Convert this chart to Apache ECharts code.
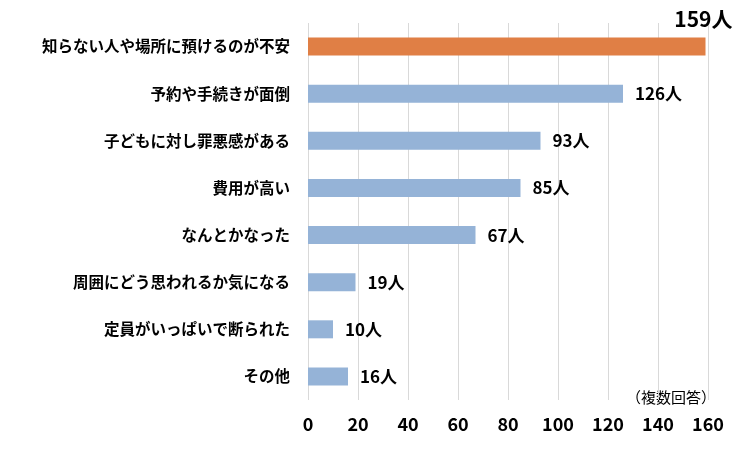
<!DOCTYPE html>
<html><head><meta charset="utf-8">
<script src="https://cdn.jsdelivr.net/npm/echarts@6/dist/echarts.min.js"></script>
<style>body{margin:0}#c{width:750px;height:450px}</style></head>
<body><div id="c"></div>
<script>
const categories=["知らない人や場所に預けるのが不安","予約や手続きが面倒","子どもに対し罪悪感がある","費用が高い","なんとかなった","周囲にどう思われるか気になる","定員がいっぱいで断られた","その他"];
const values=[159,126,93,85,67,19,10,16];
const colors=["#E07F45","#95B3D7","#95B3D7","#95B3D7","#95B3D7","#95B3D7","#95B3D7","#95B3D7"];
const ff='"Noto Sans CJK JP", sans-serif';
const chart=echarts.init(document.getElementById('c'));
chart.setOption({
 animation:false,
 grid:{left:308,right:42,top:23,bottom:50,containLabel:false},
 xAxis:{type:'value',min:0,max:160,interval:20,
  axisLabel:{fontSize:18,fontWeight:'bold',color:'#000',fontFamily:ff,margin:15},
  splitLine:{lineStyle:{color:'#d9d9d9'}},axisLine:{show:false},axisTick:{show:false}},
 yAxis:{type:'category',inverse:true,data:categories,
  axisLabel:{fontSize:15.5,fontWeight:'bold',color:'#000',fontFamily:ff,margin:18},
  axisLine:{show:false},axisTick:{show:false}},
 graphic:[{type:'text',left:626,top:390,style:{text:'（複数回答）',fontSize:15,fill:'#000',fontFamily:ff}}],
 series:[{type:'bar',barWidth:18,
  data:values.map((v,i)=>({value:v,itemStyle:{color:colors[i]},
   label:i===0?{show:true,position:'insideTopRight',offset:[32,-34],fontSize:21,formatter:'{c}人'}:{show:true,position:'right',distance:12,fontSize:17,formatter:'{c}人'}})),
  label:{fontWeight:'bold',color:'#000',fontFamily:ff}
 }]
});
</script></body></html>
